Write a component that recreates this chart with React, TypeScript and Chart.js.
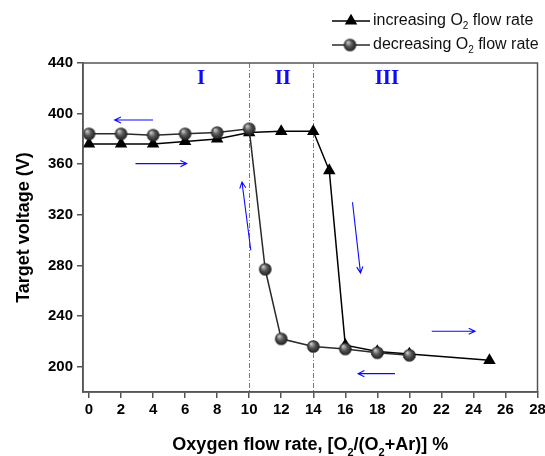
import { useEffect, useRef } from "react";
import { Chart, registerables } from "chart.js";

Chart.register(...registerables);

// Target voltage while ramping the O2 flow rate up, then back down
const flowRateIncreasing = [0, 2, 4, 6, 8, 10, 12, 14, 15, 16, 18, 20, 25];
const voltageIncreasing = [376, 376, 376, 378, 380, 385, 386, 386, 355, 217, 212, 210, 205];

const flowRateDecreasing = [0, 2, 4, 6, 8, 10, 11, 12, 14, 16, 18, 20];
const voltageDecreasing = [384, 384, 383, 384, 385, 388, 277, 222, 216, 214, 211, 209];

const xTickValues = [0, 2, 4, 6, 8, 10, 12, 14, 16, 18, 20, 22, 24, 26, 28];
const yTickValues = [200, 240, 280, 320, 360, 400, 440];

// Boundaries between the three operating regions
const regionBoundaries = [10, 14];
const regionNames = ["I", "II", "III"];
const regionNameX = [7, 12.1, 18.6];
const regionNameY = 428;

// Direction-of-sweep arrows: [x0, y0, x1, y1] in data units, head at the end
const sweepArrows = [
  [4.0, 395, 1.6, 395],
  [2.9, 360.5, 6.1, 360.5],
  [10.1, 292, 9.55, 346],
  [16.45, 330, 16.95, 274],
  [21.4, 228, 24.1, 228],
  [19.1, 194.5, 16.8, 194.5],
];

const legendLabels = ["increasing", "decreasing"];

const FONT = "'Liberation Sans', Arial, Helvetica, sans-serif";
const FRAME = "#555555";
const BLUE = "#0a0aff";

function makeSphere(r: number): HTMLCanvasElement {
  const size = Math.ceil(r * 2 + 2);
  const c = document.createElement("canvas");
  c.width = size;
  c.height = size;
  const g = c.getContext("2d")!;
  const cx = size / 2;
  const cy = size / 2;
  const grad = g.createRadialGradient(cx - r * 0.35, cy - r * 0.45, r * 0.1, cx, cy, r);
  grad.addColorStop(0, "#c4c4c4");
  grad.addColorStop(0.45, "#5a5a5a");
  grad.addColorStop(1, "#1c1c1c");
  g.fillStyle = grad;
  g.beginPath();
  g.arc(cx, cy, r, 0, Math.PI * 2);
  g.fill();
  return c;
}

type Part = { t: string; sub?: boolean };

function richWidth(ctx: CanvasRenderingContext2D, parts: Part[], size: number, weight: string) {
  let w = 0;
  for (const p of parts) {
    ctx.font = `${weight} ${p.sub ? Math.round(size * 0.62) : size}px ${FONT}`;
    w += ctx.measureText(p.t).width;
  }
  return w;
}

function drawRich(
  ctx: CanvasRenderingContext2D,
  parts: Part[],
  x: number,
  y: number,
  size: number,
  weight: string
) {
  let cx = x;
  for (const p of parts) {
    ctx.font = `${weight} ${p.sub ? Math.round(size * 0.62) : size}px ${FONT}`;
    ctx.fillText(p.t, cx, p.sub ? y + size * 0.32 : y);
    cx += ctx.measureText(p.t).width;
  }
}

function drawArrow(ctx: CanvasRenderingContext2D, x0: number, y0: number, x1: number, y1: number) {
  const ang = Math.atan2(y1 - y0, x1 - x0);
  const head = 7;
  const spread = 0.45;
  ctx.beginPath();
  ctx.moveTo(x0, y0);
  ctx.lineTo(x1, y1);
  ctx.moveTo(x1 - head * Math.cos(ang - spread), y1 - head * Math.sin(ang - spread));
  ctx.lineTo(x1, y1);
  ctx.lineTo(x1 - head * Math.cos(ang + spread), y1 - head * Math.sin(ang + spread));
  ctx.stroke();
}

export default function App() {
  const canvasRef = useRef<HTMLCanvasElement | null>(null);

  useEffect(() => {
    const canvas = canvasRef.current;
    if (!canvas) return;
    const sphere = makeSphere(6.3);
    const triRadius = 7.2;

    const decoration = {
      id: "decoration",
      beforeDatasetsDraw(chart: any) {
        const { ctx, chartArea, scales } = chart;
        ctx.save();
        ctx.strokeStyle = "#7a7a7a";
        ctx.lineWidth = 1;
        ctx.setLineDash([5, 2, 1, 2]);
        for (const b of regionBoundaries) {
          const px = Math.round(scales.x.getPixelForValue(b)) + 0.5;
          ctx.beginPath();
          ctx.moveTo(px, chartArea.top);
          ctx.lineTo(px, chartArea.bottom);
          ctx.stroke();
        }
        ctx.restore();
      },
      afterDatasetsDraw(chart: any) {
        const { ctx, chartArea, scales } = chart;
        ctx.save();
        // frame
        ctx.strokeStyle = FRAME;
        ctx.lineWidth = 1.5;
        ctx.strokeRect(chartArea.left, chartArea.top, chartArea.right - chartArea.left, chartArea.bottom - chartArea.top);

        // sweep arrows
        ctx.strokeStyle = BLUE;
        ctx.lineWidth = 1.1;
        for (const [a, b, c, d] of sweepArrows) {
          drawArrow(
            ctx,
            scales.x.getPixelForValue(a),
            scales.y.getPixelForValue(b),
            scales.x.getPixelForValue(c),
            scales.y.getPixelForValue(d)
          );
        }

        // region names
        ctx.fillStyle = BLUE;
        ctx.font = "bold 21px 'Liberation Serif', 'Times New Roman', serif";
        ctx.textAlign = "center";
        ctx.textBaseline = "middle";
        regionNames.forEach((name, i) => {
          ctx.fillText(name, scales.x.getPixelForValue(regionNameX[i]), scales.y.getPixelForValue(regionNameY));
        });
        ctx.restore();
      },
      afterDraw(chart: any) {
        const { ctx, chartArea } = chart;
        ctx.save();
        ctx.fillStyle = "#000";
        ctx.textBaseline = "alphabetic";
        ctx.textAlign = "left";

        // x axis title
        const xTitle: Part[] = [
          { t: "Oxygen flow rate, [O" },
          { t: "2", sub: true },
          { t: "/(O" },
          { t: "2", sub: true },
          { t: "+Ar)] %" },
        ];
        const w = richWidth(ctx, xTitle, 18, "bold");
        drawRich(ctx, xTitle, (chartArea.left + chartArea.right) / 2 - w / 2, 450, 18, "bold");

        // y axis title
        ctx.save();
        ctx.translate(29, (chartArea.top + chartArea.bottom) / 2);
        ctx.rotate(-Math.PI / 2);
        ctx.font = `bold 18px ${FONT}`;
        ctx.textAlign = "center";
        ctx.fillText("Target voltage (V)", 0, 0);
        ctx.restore();

        // legend
        const rows = [21, 45];
        rows.forEach((ry, i) => {
          ctx.strokeStyle = i === 0 ? "#000" : "#2a2a2a";
          ctx.lineWidth = 1.5;
          ctx.beginPath();
          ctx.moveTo(332, ry);
          ctx.lineTo(370, ry);
          ctx.stroke();
          if (i === 0) {
            const r = triRadius;
            ctx.fillStyle = "#000";
            ctx.beginPath();
            ctx.moveTo(351, ry - r);
            ctx.lineTo(351 + r * Math.sin((2 * Math.PI) / 3), ry - r * Math.cos((2 * Math.PI) / 3));
            ctx.lineTo(351 - r * Math.sin((2 * Math.PI) / 3), ry - r * Math.cos((2 * Math.PI) / 3));
            ctx.closePath();
            ctx.fill();
          } else {
            ctx.drawImage(sphere, 350 - sphere.width / 2, ry - sphere.height / 2);
          }
          ctx.fillStyle = "#111";
          ctx.textBaseline = "middle";
          drawRich(
            ctx,
            [{ t: legendLabels[i] + " O" }, { t: "2", sub: true }, { t: " flow rate" }],
            373,
            ry,
            16,
            "normal"
          );
        });
        ctx.restore();
      },
    };

    const tickFont = { family: FONT, size: 15, weight: "bold" as const };

    const chart = new Chart(canvas, {
      type: "scatter",
      data: {
        datasets: [
          {
            label: "decreasing O2 flow rate",
            data: flowRateDecreasing.map((x, i) => ({ x, y: voltageDecreasing[i] })),
            showLine: true,
            borderColor: "#2a2a2a",
            borderWidth: 1.5,
            pointStyle: sphere as any,
            pointRadius: 6,
            order: 0,
          },
          {
            label: "increasing O2 flow rate",
            data: flowRateIncreasing.map((x, i) => ({ x, y: voltageIncreasing[i] })),
            showLine: true,
            borderColor: "#000",
            borderWidth: 1.5,
            backgroundColor: "#000",
            pointStyle: "triangle",
            pointRadius: triRadius,
            pointBorderWidth: 0,
            order: 1,
          },
        ],
      },
      options: {
        responsive: false,
        animation: false,
        layout: { padding: { top: 63, right: 7, left: 0, bottom: 0 } },
        plugins: {
          legend: { display: false },
          tooltip: { enabled: false },
        },
        scales: {
          x: {
            type: "linear",
            min: -0.375,
            max: 28,
            afterBuildTicks: (s: any) => {
              s.ticks = xTickValues.map((v) => ({ value: v }));
            },
            afterFit: (s: any) => {
              s.height = 64;
              s.paddingLeft = 0;
              s.paddingRight = 0;
            },
            grid: {
              display: true,
              drawOnChartArea: false,
              drawTicks: true,
              tickLength: 6,
              color: FRAME,
              lineWidth: 1.5,
            },
            border: { display: true, color: FRAME, width: 1.5 },
            ticks: { font: tickFont, color: "#000", padding: 3, maxRotation: 0, autoSkip: false },
          },
          y: {
            type: "linear",
            min: 180,
            max: 440,
            afterBuildTicks: (s: any) => {
              s.ticks = yTickValues.map((v) => ({ value: v }));
            },
            afterFit: (s: any) => {
              s.width = 83;
              s.paddingTop = 0;
              s.paddingBottom = 0;
            },
            grid: {
              display: true,
              drawOnChartArea: false,
              drawTicks: true,
              tickLength: 6,
              color: FRAME,
              lineWidth: 1.5,
            },
            border: { display: true, color: FRAME, width: 1.5 },
            ticks: { font: tickFont, color: "#000", padding: 4, autoSkip: false },
          },
        },
      },
      plugins: [decoration],
    });

    return () => chart.destroy();
  }, []);

  return (
    <div style={{ position: "absolute", left: 0, top: 0, width: 545, height: 456, background: "#fff" }}>
      <canvas ref={canvasRef} width={545} height={456} />
    </div>
  );
}
